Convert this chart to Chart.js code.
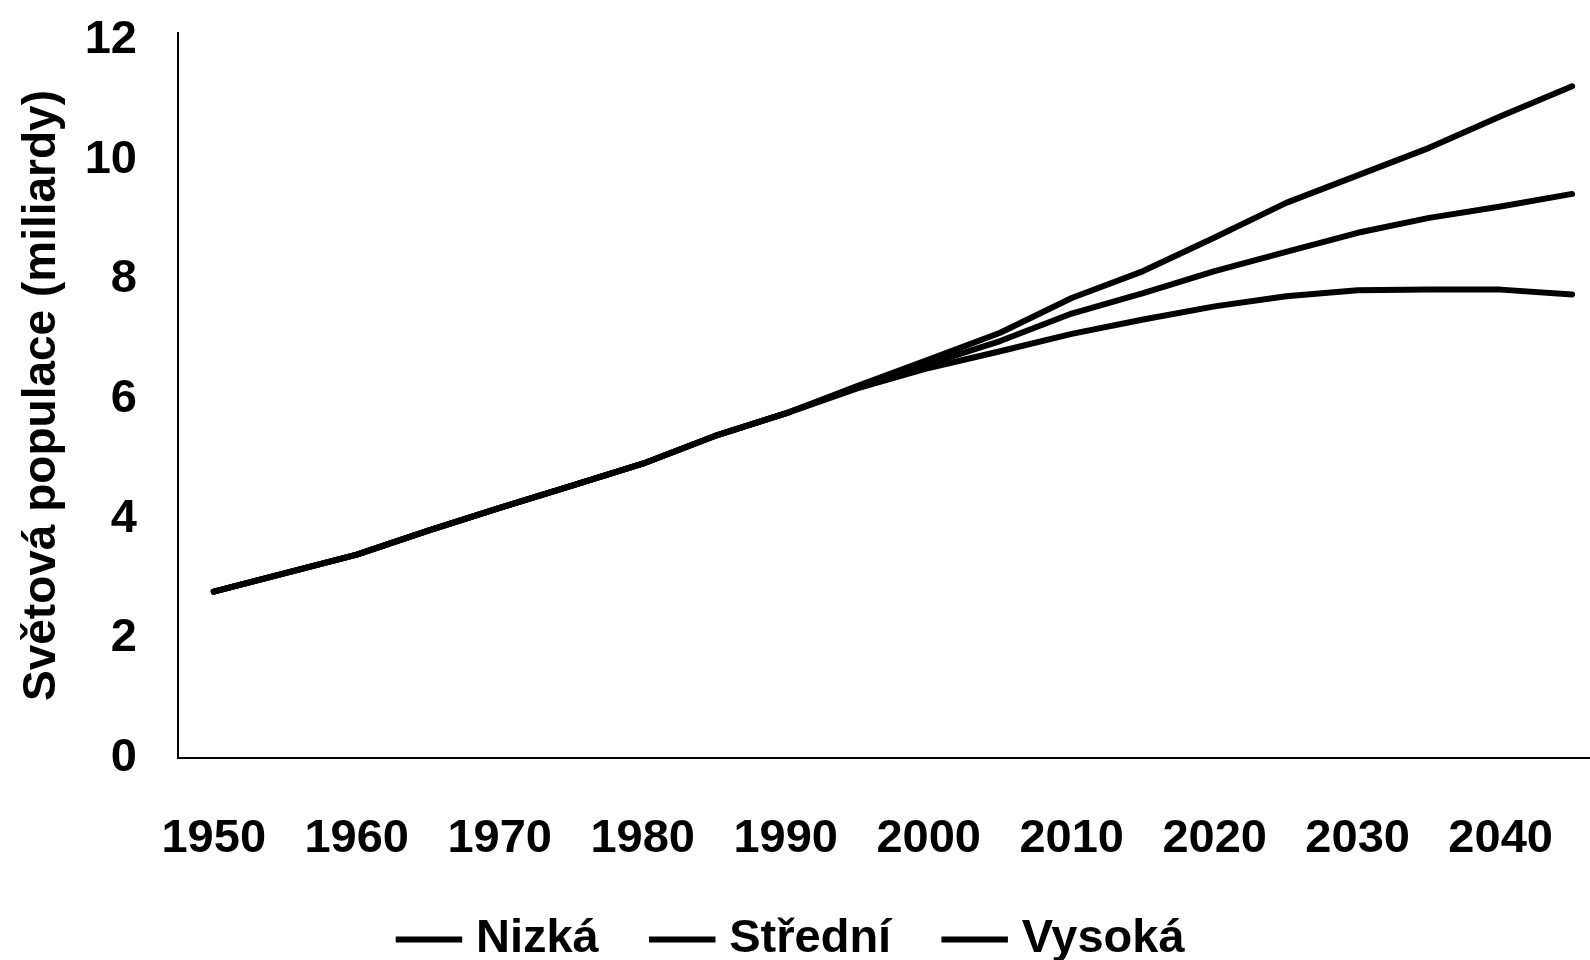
<!DOCTYPE html>
<html>
<head>
<meta charset="utf-8">
<script src="https://cdn.jsdelivr.net/npm/chart.js@4/dist/chart.umd.min.js"></script>
<style>
  html, body { margin: 0; padding: 0; background: #fff; }
  #wrap { width: 1590px; height: 960px; }
</style>
</head>
<body>
<div id="wrap"><canvas id="populace"></canvas></div>
<script>
// data, billions
const roky = [1950, 1955, 1960, 1965, 1970, 1975, 1980, 1985, 1990, 1995,
              2000, 2005, 2010, 2015, 2020, 2025, 2030, 2035, 2040, 2045];

const nizka   = [2.78, 3.09, 3.40, 3.80, 4.18, 4.55, 4.92, 5.38, 5.76, 6.18,
                 6.52, 6.80, 7.09, 7.33, 7.55, 7.72, 7.82, 7.83, 7.83, 7.75];
const stredni = [2.78, 3.09, 3.40, 3.80, 4.18, 4.55, 4.92, 5.38, 5.76, 6.20,
                 6.59, 6.97, 7.43, 7.77, 8.14, 8.46, 8.78, 9.03, 9.22, 9.43];
const vysoka  = [2.78, 3.09, 3.40, 3.80, 4.18, 4.55, 4.92, 5.38, 5.76, 6.22,
                 6.66, 7.11, 7.69, 8.14, 8.70, 9.28, 9.74, 10.20, 10.73, 11.23];

const xTicks = [1950, 1960, 1970, 1980, 1990, 2000, 2010, 2020, 2030, 2040];
const yTicks = [0, 2, 4, 6, 8, 10, 12];

const FONT = "'Liberation Sans', Arial, sans-serif";

function body(values) {
  return roky.map((r, i) => ({ x: r, y: values[i] }));
}

function serie(label, values) {
  return {
    label,
    data: body(values),
    borderColor: "#000",
    backgroundColor: "#000",
    borderWidth: 6,
    borderCapStyle: "round",
    borderJoinStyle: "round",
    pointRadius: 0,
    tension: 0
  };
}

new Chart(document.getElementById("populace"), {
  type: "line",
  data: {
    datasets: [
      serie("Nizká", nizka),
      serie("Střední", stredni),
      serie("Vysoká", vysoka)
    ]
  },
  options: {
    responsive: true,
    maintainAspectRatio: false,
    animation: false,
    layout: { padding: { top: 33, right: 0, bottom: -13, left: 0 } },
    scales: {
      x: {
        type: "linear",
        min: 1947.5,
        max: 2046.25,
        // grid hidden, tickLength only used as the gap to the labels
        grid: { display: false, drawTicks: true, tickLength: 53 },
        border: { display: true, color: "#000", width: 2 },
        afterBuildTicks: s => { s.ticks = xTicks.map(v => ({ value: v })); },
        afterFit: s => { s.height = 98; },
        ticks: {
          maxRotation: 0,
          padding: 0,
          color: "#000",
          font: { family: FONT, size: 47, weight: "bold" },
          callback: v => String(v)
        }
      },
      y: {
        min: 0,
        max: 12.12,
        grid: { display: false, drawTicks: true, tickLength: 41 },
        border: { display: true, color: "#000", width: 2 },
        afterBuildTicks: s => { s.ticks = yTicks.map(v => ({ value: v })); },
        afterFit: s => { s.width = 178; },
        ticks: {
          padding: 0,
          color: "#000",
          font: { family: FONT, size: 47, weight: "bold" },
          callback: v => String(v)
        },
        title: {
          display: true,
          text: "Světová populace (miliardy)",
          color: "#000",
          padding: 15,
          font: { family: FONT, size: 46, weight: "bold" }
        }
      }
    },
    plugins: {
      tooltip: { enabled: false },
      legend: {
        position: "bottom",
        labels: {
          usePointStyle: true,
          pointStyle: "line",
          boxWidth: 47,
          boxHeight: 48,
          padding: 60,
          color: "#000",
          font: { family: FONT, size: 47, weight: "bold" }
        }
      }
    }
  }
});
</script>
</body>
</html>
